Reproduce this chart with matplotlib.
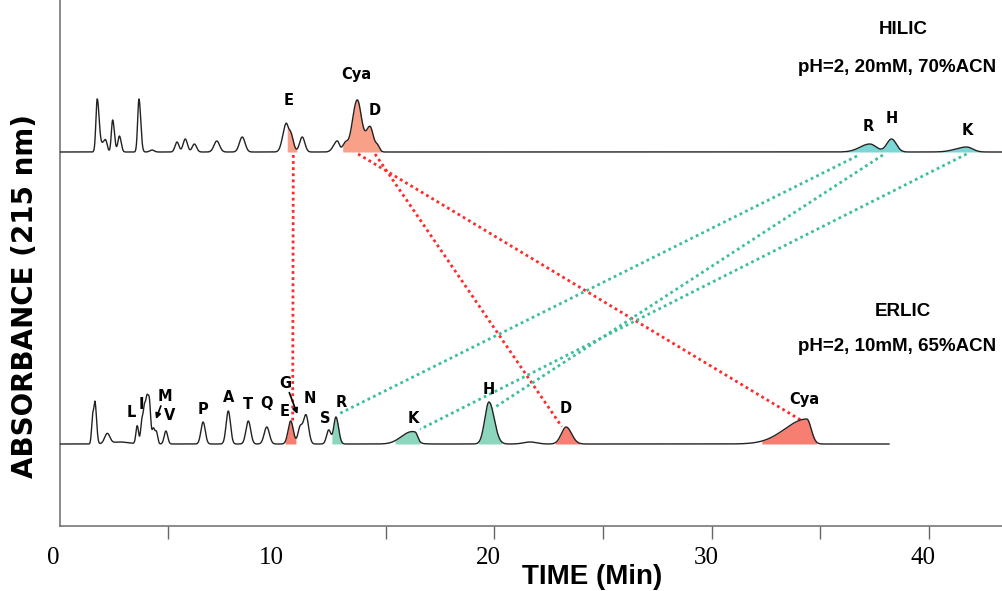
import numpy as np
import matplotlib
matplotlib.use("Agg")
import matplotlib.pyplot as plt
from matplotlib.transforms import ScaledTranslation

# HILIC peaks: retention time (min), height, left/right widths (min)
hilic_rt = [1.73, 2.00, 2.13, 2.44, 2.75, 3.65, 4.25, 5.40, 5.78, 6.20, 7.23, 8.40,
            10.41, 10.63, 11.16, 12.77, 13.13, 13.69, 14.28, 14.62,
            37.27, 38.27, 41.72]
hilic_h = [53, 8, 9, 32, 16, 53, 2, 10, 13, 8, 11, 15,
           27, 18, 15, 11, 8, 52, 25, 6,
           8, 13, 5]
hilic_wl = [0.06, 0.09, 0.07, 0.06, 0.07, 0.06, 0.10, 0.09, 0.10, 0.10, 0.13, 0.13,
            0.15, 0.10, 0.12, 0.17, 0.12, 0.22, 0.18, 0.10,
            0.45, 0.22, 0.50]
hilic_wr = [0.09, 0.09, 0.07, 0.08, 0.08, 0.08, 0.10, 0.09, 0.10, 0.10, 0.13, 0.13,
            0.10, 0.12, 0.12, 0.10, 0.12, 0.20, 0.15, 0.10,
            0.30, 0.22, 0.28]

# ERLIC peaks
erlic_rt = [1.52, 1.63, 2.19, 2.78, 3.57, 3.79, 3.90, 4.01, 4.13, 4.31, 4.45, 4.89,
            6.60, 7.76, 8.68, 9.53, 10.63, 11.06, 11.33, 12.38, 12.71,
            15.89, 16.35, 19.75, 21.64, 23.30, 34.37]
erlic_h = [27, 40, 10, 2, 18, 24, 28, 41, 40, 15, 12, 13,
           22, 33, 23, 17, 23, 16, 29, 14, 27,
           4, 10, 42, 2, 17, 25]
erlic_wl = [0.05, 0.05, 0.12, 0.40, 0.06, 0.06, 0.05, 0.06, 0.06, 0.06, 0.06, 0.08,
            0.10, 0.10, 0.11, 0.12, 0.12, 0.10, 0.12, 0.10, 0.10,
            0.40, 0.45, 0.19, 0.30, 0.22, 1.00]
erlic_wr = [0.05, 0.07, 0.12, 0.40, 0.06, 0.06, 0.05, 0.06, 0.06, 0.06, 0.06, 0.08,
            0.10, 0.10, 0.11, 0.12, 0.12, 0.10, 0.12, 0.10, 0.12,
            0.40, 0.12, 0.24, 0.30, 0.25, 0.20]

hilic_base = 373.7
erlic_base = 81.7
hilic_end = 43.35
erlic_end = 38.15

# shaded peak windows (start, end, colour)
hilic_fills = [(10.47, 10.91, "#F8A088"), (13.02, 14.82, "#F8A088"),
               (36.13, 39.12, "#7CD6D6"), (40.41, 42.64, "#7CD6D6")]
erlic_fills = [(10.37, 10.87, "#F77F72"), (12.52, 13.02, "#8CD6BE"),
               (15.43, 16.58, "#8CD6BE"), (19.25, 20.34, "#8CD6BE"),
               (22.79, 23.94, "#F77F72"), (32.30, 34.82, "#F77F72")]

# peak labels
hilic_labels = [("E", 10.55, 425.7), ("Cya", 13.67, 450.7), ("D", 14.51, 415.7),
                ("R", 37.20, 399.7), ("H", 38.27, 407.4), ("K", 41.77, 395.0)]
erlic_labels = [("L", 3.32, 113), ("I", 3.78, 121.4), ("M", 4.85, 129.7), ("V", 5.08, 109.7),
                ("P", 6.58, 116.7), ("A", 7.76, 128), ("T", 8.68, 121.4), ("Q", 9.53, 122.4),
                ("E", 10.37, 114), ("G", 10.37, 142.4), ("N", 11.52, 127.4), ("S", 12.21, 107.4),
                ("R", 12.94, 123), ("K", 16.27, 107.4), ("H", 19.75, 136.4), ("D", 23.29, 117.4),
                ("Cya", 34.24, 126.4)]

# connectors between the two runs: (x0, y0, x1, y1, colour)
links = [(10.75, 370.7, 10.72, 102.7, "#FF2A2A"),
         (13.73, 371.7, 34.14, 105.0, "#FF2A2A"),
         (14.51, 371.7, 23.10, 99.0, "#FF2A2A"),
         (36.68, 369.7, 12.90, 112.4, "#3DBE9E"),
         (37.87, 370.7, 19.95, 117.4, "#3DBE9E"),
         (41.72, 371.7, 16.58, 96.4, "#3DBE9E")]


def trace(t, rt, h, wl, wr):
    y = np.zeros_like(t)
    for c, a, sl, sr in zip(rt, h, wl, wr):
        s = np.where(t < c, sl, sr)
        y += a * np.exp(-0.5 * ((t - c) / s) ** 2)
    return y


fig = plt.figure(figsize=(10.02, 5.91), dpi=100)
ax = fig.add_axes([0.0595, 1 - 525.7 / 591, 1 - 0.0595, 525.7 / 591])
ax.set_xlim(0, 43.35)
ax.set_ylim(0, 525.7)

t1 = np.linspace(0, hilic_end, 8000)
y1 = hilic_base + trace(t1, hilic_rt, hilic_h, hilic_wl, hilic_wr)
t2 = np.linspace(0, erlic_end, 8000)
y2 = erlic_base + trace(t2, erlic_rt, erlic_h, erlic_wl, erlic_wr)

for a, b, col in hilic_fills:
    m = (t1 >= a) & (t1 <= b)
    ax.fill_between(t1[m], hilic_base, y1[m], color=col, lw=0)
for a, b, col in erlic_fills:
    m = (t2 >= a) & (t2 <= b)
    ax.fill_between(t2[m], erlic_base, y2[m], color=col, lw=0)

for x0, y0, x1, y1_, col in links:
    ax.plot([x0, x1], [y0, y1_], color=col, lw=2, ls=(0, (1, 1.2)), zorder=3)

ax.plot(t1, y1, color="#222222", lw=1.0, zorder=4)
ax.plot(t2, y2, color="#222222", lw=1.0, zorder=4)

for s, x, y in hilic_labels + erlic_labels:
    ax.text(x, y, s, ha="center", va="center", fontsize=10.5, fontweight="bold",
            family="DejaVu Sans", zorder=5)

ax.annotate("", xy=(4.39, 104), xytext=(4.70, 122.4),
            arrowprops=dict(arrowstyle="-|>", color="black", lw=1.2, mutation_scale=8))
ax.annotate("", xy=(10.98, 109), xytext=(10.52, 135.7),
            arrowprops=dict(arrowstyle="-|>", color="black", lw=1.2, mutation_scale=8))

tf = dict(fontsize=13.5, fontweight="bold", family="Liberation Sans")
ax.text(38.83, 496, "HILIC", ha="center", va="center", **tf)
ax.text(43.07, 457.7, "pH=2, 20mM, 70%ACN", ha="right", va="center", **tf)
ax.text(38.81, 214.7, "ERLIC", ha="center", va="center", **tf)
ax.text(43.10, 179.2, "pH=2, 10mM, 65%ACN", ha="right", va="center", **tf)

for side in ["top", "right"]:
    ax.spines[side].set_visible(False)
for side in ["left", "bottom"]:
    ax.spines[side].set_color("#777777")
    ax.spines[side].set_linewidth(1.2)

ax.set_yticks([])
ax.xaxis.remove_overlapping_locs = False
ax.set_xticks([5, 15, 20, 25, 30, 35, 40])
ax.set_xticklabels([])
ax.tick_params(axis="x", which="major", length=9.4, width=1.0, color="#666666")
ax.set_xticks([0, 10, 20, 30, 40], minor=True)
ax.set_xticklabels(["0", "10", "20", "30", "40"], minor=True,
                   fontsize=18, family="Liberation Serif")
ax.tick_params(axis="x", which="minor", length=0, pad=15)
shift = ScaledTranslation(-0.06, 0, fig.dpi_scale_trans)
for lab in ax.get_xticklabels(minor=True):
    lab.set_transform(lab.get_transform() + shift)

fig.text(592.5 / 1002, 1 - 577 / 591, "TIME (Min)", ha="center", va="center",
         fontsize=20, fontweight="bold", family="Liberation Sans")
fig.text(25 / 1002, 1 - 296 / 591, "ABSORBANCE (215 nm)", ha="center", va="center",
         rotation=90, fontsize=20, fontweight="bold", family="DejaVu Sans")

fig.savefig("out.png", dpi=100)
